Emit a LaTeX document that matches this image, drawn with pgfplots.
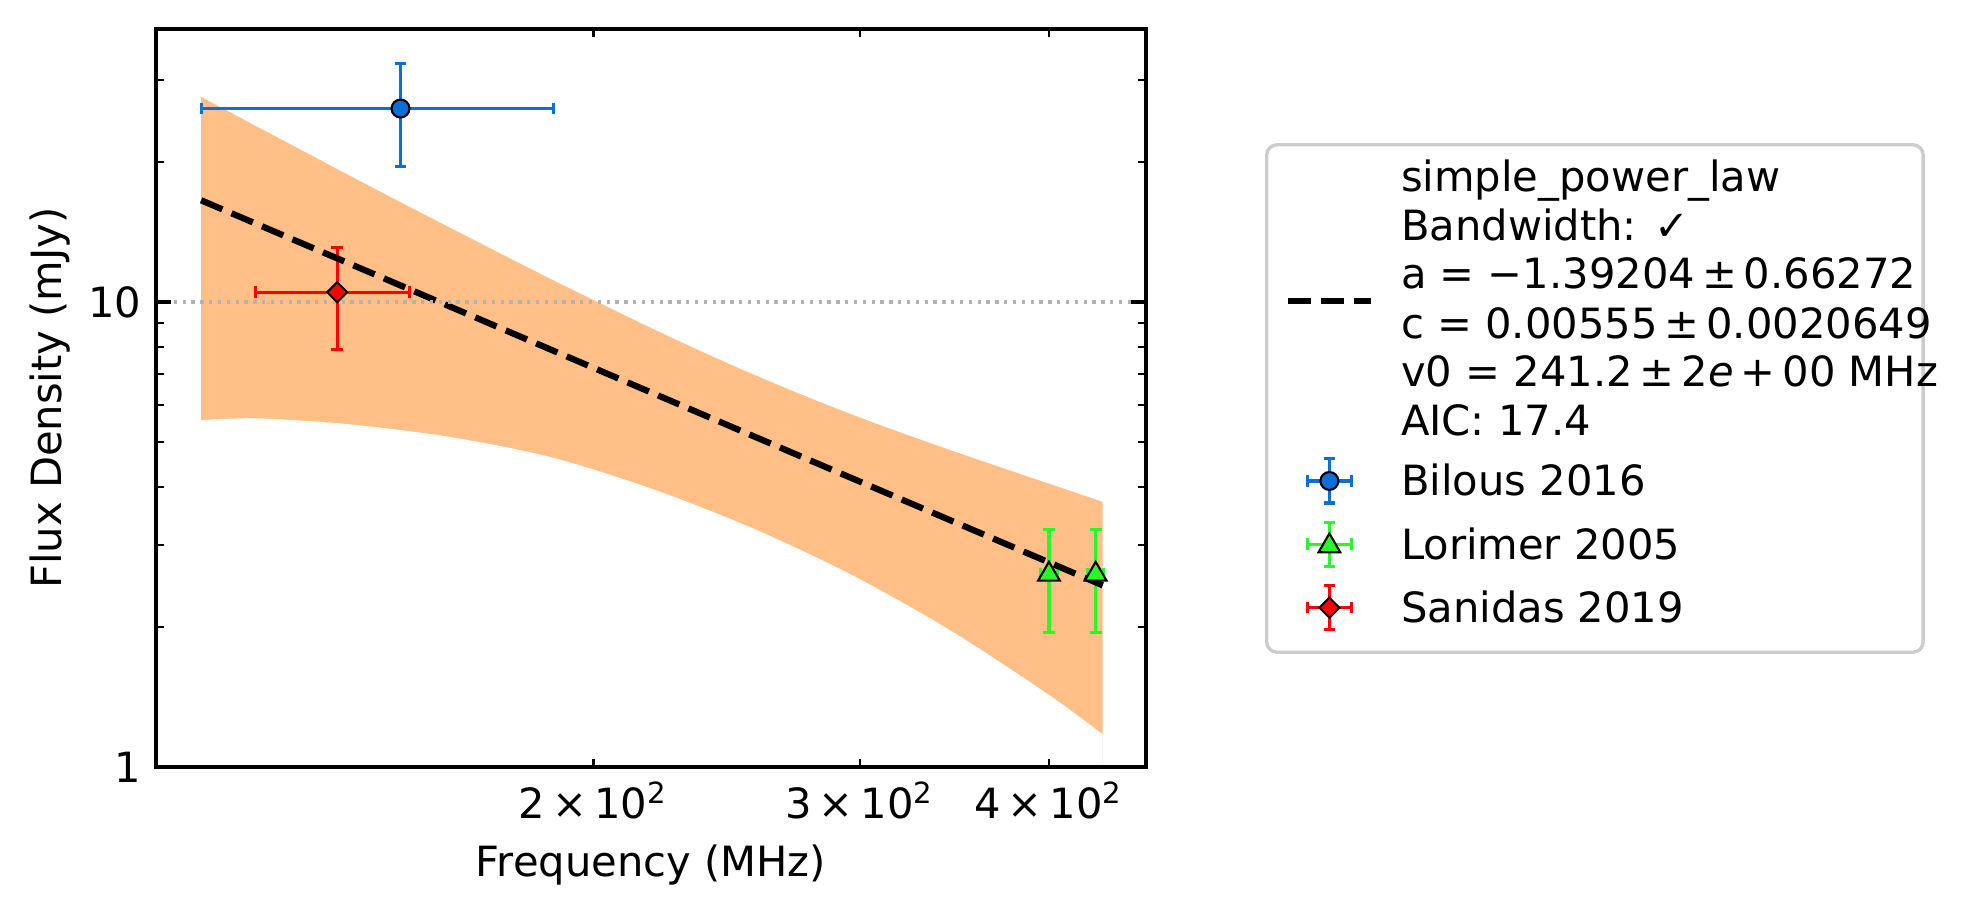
\documentclass[border=0pt]{standalone}
\usepackage{fontspec}
\setmainfont{DejaVu Sans}
\usepackage{pgfplots}
\pgfplotsset{compat=1.18}
\definecolor{bblue}{HTML}{0D6ED7}
\definecolor{lgreen}{HTML}{28FA28}
\definecolor{rred}{HTML}{FF0000}
\definecolor{bandc}{HTML}{FFBF86}
\definecolor{lgray}{HTML}{CCCCCC}
\pgfplotsset{
  blankleg/.style={legend image code/.code={\path[draw=none] (0pt,0pt)--(20pt,0pt);}},
  fitleg/.style={legend image code/.code={
    \path[draw=none] (0pt,0pt)--(20pt,0pt);
    \draw[sharp corners, black, line width=1.5pt, dash pattern=on 5.55pt off 2.4pt] (0pt,-5.45pt)--(20pt,-5.45pt);}},
  bilousleg/.style={legend image code/.code={
    \path[draw=none] (0pt,0pt)--(20pt,0pt);
    \draw[sharp corners, bblue, line width=0.75pt] (4.8pt,0pt)--(15.2pt,0pt) (4.8pt,-1.4pt)--(4.8pt,1.4pt) (15.2pt,-1.4pt)--(15.2pt,1.4pt) (10pt,-5.3pt)--(10pt,5.3pt) (8.6pt,-5.3pt)--(11.4pt,-5.3pt) (8.6pt,5.3pt)--(11.4pt,5.3pt);
    \filldraw[sharp corners, fill=bblue, draw=black, line width=0.5pt] (10pt,0pt) circle[radius=2.15pt];}},
  lorimerleg/.style={legend image code/.code={
    \path[draw=none] (0pt,0pt)--(20pt,0pt);
    \draw[sharp corners, lgreen, line width=0.75pt] (4.8pt,0pt)--(15.2pt,0pt) (4.8pt,-1.4pt)--(4.8pt,1.4pt) (15.2pt,-1.4pt)--(15.2pt,1.4pt) (10pt,-5.3pt)--(10pt,5.3pt) (8.6pt,-5.3pt)--(11.4pt,-5.3pt) (8.6pt,5.3pt)--(11.4pt,5.3pt);
    \filldraw[sharp corners, fill=lgreen, draw=black, line width=0.5pt] (10pt,2.6pt)--(12.6pt,-1.9pt)--(7.4pt,-1.9pt)--cycle;}},
  sanidasleg/.style={legend image code/.code={
    \path[draw=none] (0pt,0pt)--(20pt,0pt);
    \draw[sharp corners, rred, line width=0.75pt] (4.8pt,0pt)--(15.2pt,0pt) (4.8pt,-1.4pt)--(4.8pt,1.4pt) (15.2pt,-1.4pt)--(15.2pt,1.4pt) (10pt,-5.3pt)--(10pt,5.3pt) (8.6pt,-5.3pt)--(11.4pt,-5.3pt) (8.6pt,5.3pt)--(11.4pt,5.3pt);
    \filldraw[sharp corners, fill=rred, draw=black, line width=0.5pt] (10pt,2.4pt)--(12.4pt,0pt)--(10pt,-2.4pt)--(7.6pt,0pt)--cycle;}},
}
\newcommand{\fstrut}{\vrule height 8.2pt depth 3.4pt width 0pt}
\newcommand{\mstrut}{\vrule height 11.2pt depth 4.0pt width 0pt}
\newcommand{\lline}[1]{\fstrut\makebox[121pt][l]{#1}}
\begin{document}
\begin{tikzpicture}
\useasboundingbox (-37.44pt,-35.28pt) rectangle (439.44pt,184.08pt);
\begin{axis}[
  scale only axis, width=237.6pt, height=177.1pt,
  at={(0,0)}, anchor=south west,
  xmode=log, ymode=log,
  xmin=102.77, xmax=463.7, ymin=1, ymax=38.6,
  xtick={200,300,400},
  xticklabels={2\,×\,10\textsuperscript{2}, 3\,×\,10\textsuperscript{2}, 4\,×\,10\textsuperscript{2}},
  minor xtick={},
  ytick={1,10}, yticklabels={1,10},
  minor ytick={2,3,4,5,6,7,8,9,20,30},
  tick align=inside,
  major tick length=3.5pt, minor tick length=2pt,
  tick style={black, line width=0.8pt},
  minor tick style={black, line width=0.6pt},
  xtick style={/pgfplots/major tick length=2pt, line width=0.6pt},
  axis line style={line width=0.8pt},
  ymajorgrids,
  major grid style={color=black!30, line width=0.8pt, dash pattern=on 0.8pt off 1.32pt},
  axis on top,
  xlabel={Frequency (MHz)}, ylabel={Flux Density (mJy)},
  every axis x label/.style={at={(axis description cs:0.5,0)}, anchor=base, yshift=-26.3pt},
  every axis y label/.style={at={(axis description cs:-0.0951,0.5)}, anchor=base, rotate=90},
  legend style={at={(axis description cs:1.1202,0.4994)}, anchor=west, draw=lgray, line width=0.8pt, rounded corners=2.5pt, inner xsep=4.3pt, inner ysep=3.1pt, column sep=6.45pt, row sep=0pt, nodes={inner sep=0pt, text depth={}}},
  legend cell align=left,
]
% uncertainty band: area under the upper edge, then the area under the lower edge cleared
\addplot[fill=bandc, draw=none, smooth, forget plot] coordinates {
 (110.06,27.58) (144.5,17.27) (181.6,11.79) (202.0,9.93) (223.6,8.47) (247.4,7.29) (273.8,6.34) (303.1,5.57) (335.4,4.945) (371.3,4.413) (411.0,3.947) (434.1,3.715)} \closedcycle;
\addplot[fill=white, draw=none, smooth, forget plot] coordinates {
 (110.06,5.565) (119.8,5.62) (138.0,5.455) (160.8,5.124) (187.3,4.639) (217.9,3.979) (253.8,3.279) (295.5,2.600) (344.1,1.969) (400.6,1.424) (434.1,1.175)} \closedcycle;
% legend block of the fit
\addlegendimage{blankleg}
\addlegendentry{\lline{simple\_power\_law}}
\addlegendimage{blankleg}
\addlegendentry{\lline{Bandwidth: ✓}}
\addlegendimage{fitleg}
\addlegendentry{\lline{a = −1.39204\,±\,0.66272}}
\addlegendimage{blankleg}
\addlegendentry{\lline{c = 0.00555\,±\,0.0020649}}
\addlegendimage{blankleg}
\addlegendentry{\lline{v0 = 241.2\,±\,2\textit{e}\,+\,00 MHz}}
\addlegendimage{blankleg}
\addlegendentry{\lline{AIC: 17.4}}
% Bilous 2016
\addplot[bilousleg, only marks, mark=*, mark size=2.15pt, mark options={fill=bblue, draw=black, line width=0.5pt},
  error bars/.cd, x dir=both, x explicit, y dir=both, y explicit,
  error bar style={bblue, line width=0.75pt}, error mark options={rotate=90, bblue, mark size=1.4pt, line width=0.75pt}]
  coordinates {(149.1,26.04) +- (39,6.5)};
\addlegendentry{\mstrut Bilous 2016}
% Lorimer 2005
\addplot[lorimerleg, only marks, mark=triangle*, mark size=3pt, mark options={fill=lgreen, draw=black, line width=0.5pt},
  error bars/.cd, x dir=both, x explicit, y dir=both, y explicit,
  error bar style={lgreen, line width=0.75pt}, error mark options={rotate=90, lgreen, mark size=1.4pt, line width=0.75pt}]
  coordinates {(400,2.596) +- (5,0.65) (429.5,2.596) +- (5,0.65)};
\addlegendentry{\mstrut Lorimer 2005}
% Sanidas 2019
\addplot[sanidasleg, only marks, mark=square*, mark size=1.7pt, mark options={rotate=45, fill=rred, draw=black, line width=0.5pt},
  error bars/.cd, x dir=both, x explicit, y dir=both, y explicit,
  error bar style={rred, line width=0.75pt}, error mark options={rotate=90, rred, mark size=1.4pt, line width=0.75pt}]
  coordinates {(135.4,10.49) +- (15.8,2.6)};
\addlegendentry{\mstrut Sanidas 2019}
% fit line
\addplot[black, line width=1.5pt, dash pattern=on 5.55pt off 2.4pt, forget plot] coordinates {(110.06,16.54) (434.1,2.458)};
\end{axis}
\end{tikzpicture}
\end{document}
